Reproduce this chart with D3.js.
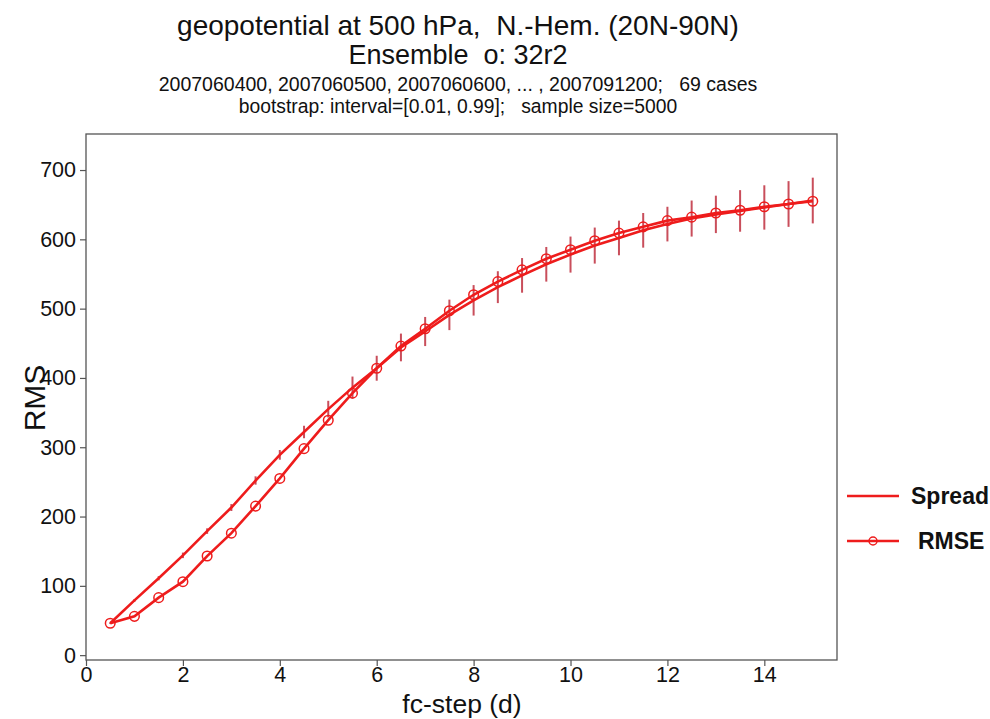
<!DOCTYPE html>
<html><head><meta charset="utf-8">
<script src="https://cdn.jsdelivr.net/npm/d3@7/dist/d3.min.js"></script>
<style>body{margin:0;background:#fff}svg{display:block}text{font-family:"Liberation Sans",Arial,Helvetica,sans-serif;fill:#111}</style>
</head><body><svg id="c" width="990" height="719"></svg>
<script>
const fcStep = [0.5,1,1.5,2,2.5,3,3.5,4,4.5,5,5.5,6,6.5,7,7.5,8,8.5,9,9.5,10,10.5,11,11.5,12,12.5,13,13.5,14,14.5,15];
const rmse   = [46,56,83,106,143,176,215,255,298,339,378,414,446,471,497,520,539,556,572,585,598,609,618,627,632,638,642,647,651,655];
const spread = [46,79,111,144,179,213,252,289,322,355,386,414,444,467,491,512,531,548,564,578,591,602,613,622,630,636,641,646,651,656];
const spreadLo = [45,77,108,140,175,208,246,282,313,343,370,396,424,446,469,490,508,523,539,552,565,577,588,597,604,609,611,614,618,623];
const spreadHi = [47,81,114,148,183,218,258,296,331,367,402,432,464,488,513,534,554,573,589,604,617,627,638,647,656,663,671,678,684,689];
const xTicks = [0,2,4,6,8,10,12,14];
const yTicks = [0,100,200,300,400,500,600,700];
const titleLines = ["geopotential at 500 hPa,  N.-Hem. (20N-90N)", "Ensemble  o: 32r2",
  "2007060400, 2007060500, 2007060600, ... , 2007091200;   69 cases",
  "bootstrap: interval=[0.01, 0.99];   sample size=5000"];
const legendNames = ["Spread","RMSE"];

const svg = d3.select("#c");
const L=86, T=134, R=837, B=660;
const x = d3.scaleLinear().domain([0,15.5]).range([L,R]);
const y = d3.scaleLinear().domain([-7,752]).range([B,T]);

// titles
const tY=[35,64,91,113], tS=[28,27,19.5,19.3];
titleLines.forEach((t,i)=>svg.append("text").attr("x",458).attr("y",tY[i]).attr("text-anchor","middle")
  .attr("font-size",tS[i]).text(t).style("white-space","pre"));

// frame
svg.append("rect").attr("x",L).attr("y",T).attr("width",R-L).attr("height",B-T)
  .attr("fill","none").attr("stroke","#555").attr("stroke-width",1.3);

const gx = svg.append("g").attr("transform",`translate(0,${B})`)
  .call(d3.axisBottom(x).tickValues(xTicks).tickSize(6).tickPadding(1).tickFormat(d3.format("d")));
const gy = svg.append("g").attr("transform",`translate(${L},0)`)
  .call(d3.axisLeft(y).tickValues(yTicks).tickSize(6).tickPadding(4).tickFormat(d3.format("d")));
[gx,gy].forEach(g=>{g.select(".domain").remove();
  g.selectAll(".tick line").attr("stroke","#555").attr("stroke-width",1.2);
  g.selectAll(".tick text").attr("font-size",21.5).attr("fill","#111")
   .style("font-family",'"Liberation Sans",Arial,sans-serif');});

svg.append("text").attr("x",462).attr("y",713).attr("text-anchor","middle").attr("font-size",26.5).text("fc-step (d)");
svg.append("text").attr("transform","translate(45,398) rotate(-90)").attr("text-anchor","middle").attr("font-size",30).text("RMS");

const red="#ee1c1c";
const plot = svg.append("g");
// error bars
plot.selectAll(".eb").data(fcStep).join("line").attr("class","eb")
  .attr("x1",d=>x(d)).attr("x2",d=>x(d))
  .attr("y1",(d,i)=>y(spreadLo[i])).attr("y2",(d,i)=>y(spreadHi[i]))
  .attr("stroke","#c0303f").attr("stroke-width",2).attr("opacity",0.85);
const line = d3.line().x(d=>x(d[0])).y(d=>y(d[1]));
plot.append("path").datum(fcStep.map((d,i)=>[d,spread[i]])).attr("d",line)
  .attr("fill","none").attr("stroke",red).attr("stroke-width",2.6);
plot.append("path").datum(fcStep.map((d,i)=>[d,rmse[i]])).attr("d",line)
  .attr("fill","none").attr("stroke",red).attr("stroke-width",2.6);
plot.selectAll(".pt").data(fcStep).join("circle").attr("class","pt")
  .attr("cx",d=>x(d)).attr("cy",(d,i)=>y(rmse[i])).attr("r",4.8)
  .attr("fill","none").attr("stroke",red).attr("stroke-width",1.5);

// legend
const lg = svg.append("g");
const ly=[496,541], lt=[911,918];
legendNames.forEach((n,i)=>{
  lg.append("line").attr("x1",847).attr("x2",899).attr("y1",ly[i]).attr("y2",ly[i]).attr("stroke",red).attr("stroke-width",2.6);
  if(i===1) lg.append("circle").attr("cx",873).attr("cy",ly[i]).attr("r",4).attr("fill","none").attr("stroke",red).attr("stroke-width",1.5);
  lg.append("text").attr("x",lt[i]).attr("y",ly[i]+8).attr("font-size",23).attr("font-weight","bold").text(n);
});
</script></body></html>
